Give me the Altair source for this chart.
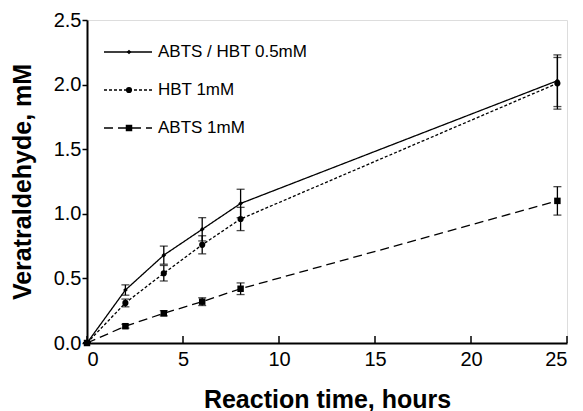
import altair as alt
import pandas as pd

time = [0, 2, 4, 6, 8, 24.5]
series = ["ABTS / HBT 0.5mM", "HBT 1mM", "ABTS 1mM"]
abts_hbt = [0, 0.41, 0.68, 0.88, 1.08, 2.03]
abts_hbt_err = [0, 0.04, 0.07, 0.09, 0.11, 0.20]
hbt = [0, 0.31, 0.54, 0.76, 0.96, 2.01]
hbt_err = [0, 0.03, 0.06, 0.07, 0.09, 0.20]
abts = [0, 0.13, 0.23, 0.32, 0.42, 1.10]
abts_err = [0, 0.015, 0.02, 0.03, 0.045, 0.11]
x_ticks = [0, 5, 10, 15, 20, 25]
y_ticks = [0.0, 0.5, 1.0, 1.5, 2.0, 2.5]

W, H = 480, 323
FONT = "Liberation Sans"

values = [abts_hbt, hbt, abts]
errors = [abts_hbt_err, hbt_err, abts_err]
dashes = [[1, 0], [3, 2], [9, 5]]
shapes = ["diamond", "circle", "square"]
sizes = [22, 38, 42]
legend_y = [32, 70, 108]

x_scale = alt.Scale(domain=[0, 25], nice=False, zero=False)
y_scale = alt.Scale(domain=[0, 2.5], nice=False)
x_axis = alt.Axis(values=x_ticks, tickSize=0, labelFontSize=20, labelPadding=6,
                  labelFont=FONT, labelColor="black", domainColor="black",
                  domainWidth=2, grid=False, title="Reaction time, hours",
                  titleFont=FONT, titleFontSize=25, titleFontWeight="bold",
                  titleColor="black", titleY=64, titleBaseline="alphabetic",
                  labelOverlap=False)
y_axis = alt.Axis(values=y_ticks, format=".1f", tickSize=5, tickWidth=1.5,
                  tickColor="black", labelFontSize=20, labelPadding=1,
                  labelFont=FONT, labelColor="black", domainColor="black",
                  domainWidth=2, grid=False, title="Veratraldehyde, mM",
                  titleFont=FONT, titleFontSize=25, titleFontWeight="bold",
                  titleColor="black", titleX=-57, titleY=H / 2,
                  titleAngle=270, titleBaseline="alphabetic", titleAlign="center")

X = alt.X("t:Q", scale=x_scale, axis=x_axis)
Y = alt.Y("v:Q", scale=y_scale, axis=y_axis)

layers = []
for i, name in enumerate(series):
    df = pd.DataFrame({
        "t": time,
        "v": values[i],
        "lo": [v - e for v, e in zip(values[i], errors[i])],
        "hi": [v + e for v, e in zip(values[i], errors[i])],
    })
    df = df
    err = alt.Chart(df).mark_errorbar(
        ticks={"size": 8, "color": "black", "thickness": 1.3},
        rule={"color": "black", "strokeWidth": 1.3},
    ).encode(x=X, y=alt.Y("lo:Q", scale=y_scale, axis=y_axis), y2="hi:Q")
    line = alt.Chart(df).mark_line(color="black", strokeWidth=1.3,
                                   strokeDash=dashes[i]).encode(x=X, y=Y)
    pts = alt.Chart(df).mark_point(shape=shapes[i], filled=True, color="black",
                                   size=sizes[i], opacity=1).encode(x=X, y=Y)
    layers += [err, line, pts]

    leg = pd.DataFrame({"label": [name]})
    lrule = alt.Chart(leg).mark_rule(color="black", strokeWidth=1.3,
                                     strokeDash=dashes[i]).encode(
        x=alt.value(17), x2=alt.value(65), y=alt.value(legend_y[i]))
    lpt = alt.Chart(leg).mark_point(shape=shapes[i], filled=True, color="black",
                                    size=sizes[i], opacity=1).encode(
        x=alt.value(42), y=alt.value(legend_y[i]))
    ltxt = alt.Chart(leg).mark_text(align="left", baseline="middle", font=FONT,
                                    fontSize=17, color="black").encode(
        x=alt.value(71), y=alt.value(legend_y[i]), text="label:N")
    layers += [lrule, lpt, ltxt]

tick_df = pd.DataFrame({"t": x_ticks})
inner_ticks = alt.Chart(tick_df).mark_rule(color="black", strokeWidth=1.5).encode(
    x=X, y=alt.value(H), y2=alt.value(H - 7))
layers.append(inner_ticks)

chart = alt.layer(*layers).properties(
    width=W, height=H,
    autosize=alt.AutoSizeParams(type="none"),
    padding={"left": 79, "top": 12, "right": 8, "bottom": 68},
).configure_view(stroke="black", strokeWidth=1.5).configure(background="white")

chart.save("out.html", embed_options={"renderer": "svg", "actions": False})
